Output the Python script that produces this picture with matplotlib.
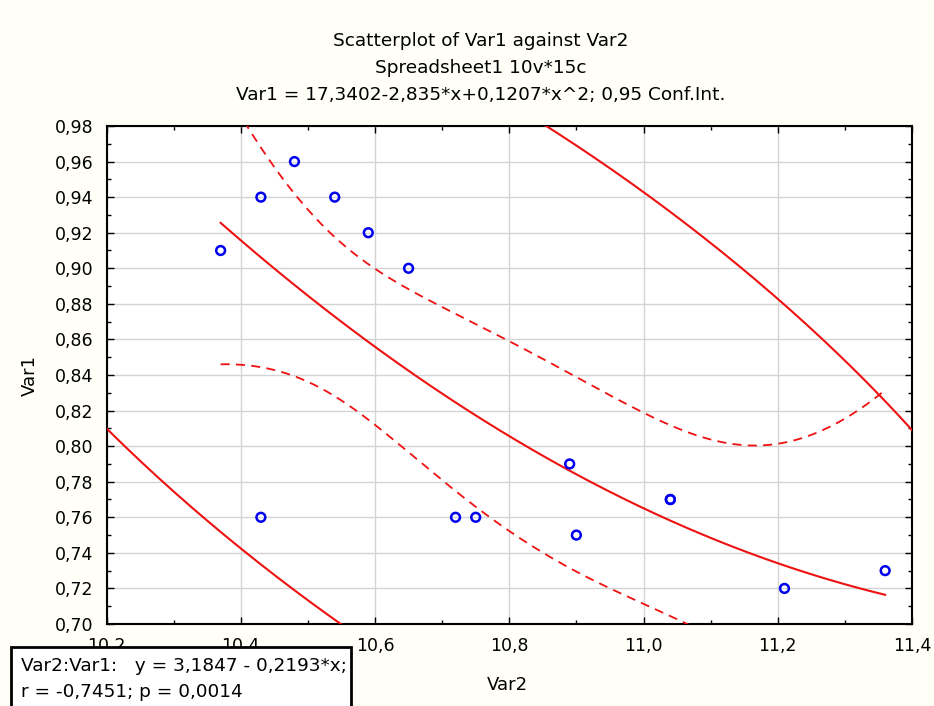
import numpy as np
import matplotlib
matplotlib.use("Agg")
import matplotlib.pyplot as plt
from matplotlib.ticker import MultipleLocator, FuncFormatter

# Data (Var2 = x, Var1 = y)
var2 = [10.37, 10.43, 10.48, 10.54, 10.59, 10.65, 10.43, 10.72, 10.75,
        10.89, 10.90, 11.04, 11.04, 11.21, 11.36]
var1 = [0.91, 0.94, 0.96, 0.94, 0.92, 0.90, 0.76, 0.76, 0.76,
        0.79, 0.75, 0.77, 0.77, 0.72, 0.73]

title_lines = ["Scatterplot of Var1 against Var2",
               "Spreadsheet1 10v*15c",
               "Var1 = 17,3402-2,835*x+0,1207*x^2; 0,95 Conf.Int."]
legend_lines = ["Var2:Var1:   y = 3,1847 - 0,2193*x;",
                "r = -0,7451; p = 0,0014"]

plt.rcParams['font.family'] = ['DejaVu Sans']

x = np.array(var2)
y = np.array(var1)
n = len(x)

W, H = 934, 706
fig = plt.figure(figsize=(W / 100, H / 100), dpi=100)
fig.patch.set_facecolor('#fffff7')
ax = fig.add_axes([106.5 / W, 1 - 624 / H, (912 - 106.5) / W, (624 - 126) / H])
ax.set_facecolor('white')

RED = '#ee1111'
# quadratic fit with 95% confidence band
X = np.column_stack([np.ones(n), x, x**2])
beta, *_ = np.linalg.lstsq(X, y, rcond=None)
resid = y - X @ beta
s2 = resid @ resid / (n - 3)
XtXi = np.linalg.inv(X.T @ X)
t = 2.1788  # t(0.975, 12)
xs = np.linspace(x.min(), x.max(), 300)
Xs = np.column_stack([np.ones_like(xs), xs, xs**2])
fit = Xs @ beta
se = np.sqrt(s2 * np.einsum('ij,jk,ik->i', Xs, XtXi, Xs))
ax.plot(xs, fit, color=RED, lw=1.5, zorder=3)
ax.plot(xs, fit + t * se, color=RED, lw=1.3, ls=(0, (5, 3.5)), zorder=3)
ax.plot(xs, fit - t * se, color=RED, lw=1.3, ls=(0, (5, 3.5)), zorder=3)

# 95% prediction ellipse (Hotelling)
F95 = 3.8056  # F(0.95; 2, n-2)
c = 2 * (n - 1) * (n + 1) / (n * (n - 2)) * F95
S = np.cov(x, y)
L = np.linalg.cholesky(S)
tt = np.linspace(0, 2 * np.pi, 1000)
pts = np.array([x.mean(), y.mean()])[:, None] + np.sqrt(c) * L @ np.vstack([np.cos(tt), np.sin(tt)])
ax.plot(pts[0], pts[1], color=RED, lw=1.5, zorder=3)

ax.scatter(x, y, s=40, facecolors='none', edgecolors='#0000ee', linewidths=1.8, zorder=4)

ax.set_xlim(10.2, 11.4)
ax.set_ylim(0.70, 0.98)
ax.xaxis.set_major_locator(MultipleLocator(0.2))
ax.xaxis.set_minor_locator(MultipleLocator(0.1))
ax.yaxis.set_major_locator(MultipleLocator(0.02))
ax.yaxis.set_minor_locator(MultipleLocator(0.01))
ax.xaxis.set_major_formatter(FuncFormatter(lambda v, p: f"{v:.1f}".replace('.', ',')))
ax.yaxis.set_major_formatter(FuncFormatter(lambda v, p: f"{v:.2f}".replace('.', ',')))
ax.tick_params(which='both', direction='in', top=True, right=True, color='black')
ax.tick_params(which='major', length=5, width=1, labelsize=12.5)
ax.tick_params(axis='y', which='major', pad=9.5)
ax.tick_params(axis='x', which='major', pad=9.5)
ax.tick_params(which='minor', length=3, width=1)
ax.grid(True, which='major', color='#d4d4d4', lw=1)
ax.set_axisbelow(True)
for sp in ax.spines.values():
    sp.set_linewidth(1.5)

fig.text(507 / W, 1 - 685 / H, "Var2", ha='center', va='center', fontsize=13)
fig.text(30 / W, 1 - 376 / H, "Var1", ha='center', va='center', fontsize=13, rotation=90)

for i, tl in enumerate(title_lines):
    fig.text(481 / W, 1 - (46.5 + 26.6 * i) / H, tl, ha='center', va='baseline', fontsize=13.3)

# legend box
fig.patches.append(plt.Rectangle((11 / W, -0.01), (351 - 11) / W, (706 - 647) / H + 0.01,
                                 transform=fig.transFigure, facecolor='white',
                                 edgecolor='black', lw=2, zorder=10))
fig.text(21 / W, 1 - 671 / H, legend_lines[0], ha='left', va='baseline', fontsize=13.3, zorder=11)
fig.text(21 / W, 1 - 697 / H, legend_lines[1], ha='left', va='baseline', fontsize=13.3, zorder=11)

fig.savefig("out.png", dpi=100, facecolor=fig.get_facecolor())
